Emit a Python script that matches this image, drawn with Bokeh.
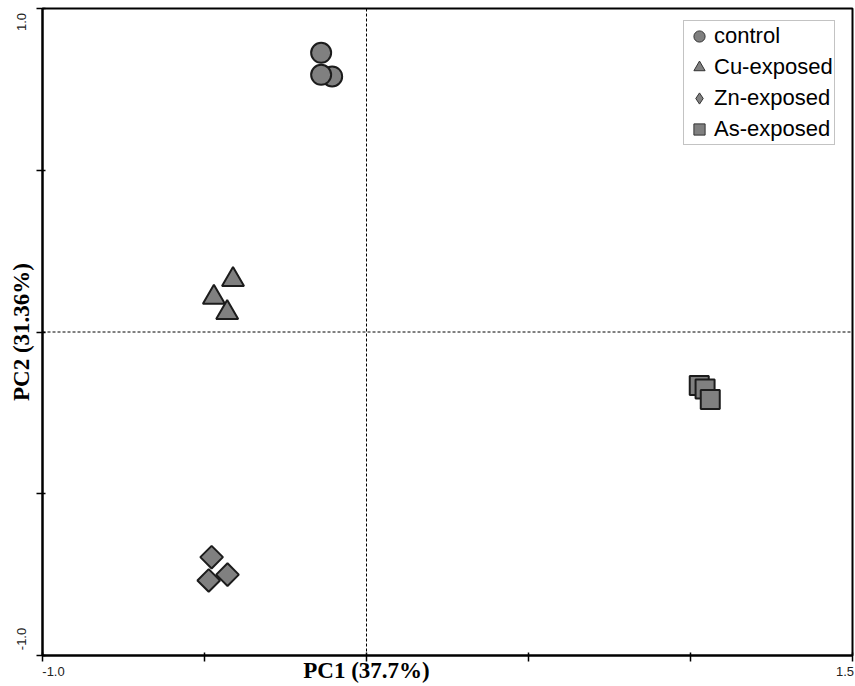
import math
from bokeh.plotting import figure
from bokeh.models import (Range1d, Span, Legend, LegendItem, FixedTicker, ColumnDataSource,
                          CustomJSTickFormatter, NumeralTickFormatter, LinearAxis)
from bokeh.embed import file_html
from bokeh.resources import INLINE

# ---- data (PCA scores) ----
control_x = [-0.106, -0.140, -0.140]
control_y = [0.790, 0.863, 0.795]
cu_x = [-0.412, -0.471, -0.430]
cu_y = [0.162, 0.107, 0.060]
zn_x = [-0.478, -0.429, -0.487]
zn_y = [-0.696, -0.750, -0.768]
as_x = [1.027, 1.045, 1.061]
as_y = [-0.165, -0.176, -0.209]

group_names = ["control", "Cu-exposed", "Zn-exposed", "As-exposed"]
x_title = "PC1 (37.7%)"
y_title = "PC2 (31.36%)"
x_ticks = [-1.0, -0.5, 0.0, 0.5, 1.0, 1.5]
y_ticks = [-1.0, -0.5, 0.0, 0.5, 1.0]
x_end_labels = [-1.0, 1.5]
y_end_labels = [-1.0, 1.0]

FILL = "#808080"
EDGE = "#1c1c1c"

p = figure(width=855, height=686, output_backend="svg", toolbar_location=None,
           x_range=Range1d(-1.0, 1.5), y_range=Range1d(-1.0, 1.0),
           min_border_left=42, min_border_right=3, min_border_top=8, min_border_bottom=31)
p.grid.visible = False
p.outline_line_color = "black"
p.outline_line_width = 2
p.background_fill_color = "white"
p.border_fill_color = "white"

# main axes: line + ticks only
for ax, ticks in ((p.xaxis[0], x_ticks), (p.yaxis[0], y_ticks)):
    ax.ticker = FixedTicker(ticks=ticks)
    ax.formatter = CustomJSTickFormatter(code="return ''")
    ax.minor_tick_line_color = None
    ax.major_tick_in = 3
    ax.major_tick_out = 6
    ax.major_tick_line_width = 1.5
    ax.axis_line_width = 2
    ax.axis_line_color = "black"
    ax.major_tick_line_color = "black"
    ax.major_label_standoff = 0

# label-only axes (ranges slightly rescaled so that the end labels sit inside the plot corners, as in the reference)
p.extra_x_ranges = {"xl": Range1d(-1.034744, 1.523689)}
p.extra_y_ranges = {"yl": Range1d(-1.053485, 1.043760)}

def label_axis(ax, ticks, font, size, style, standoff, orient=None):
    ax.ticker = FixedTicker(ticks=ticks)
    ax.axis_line_color = None
    ax.major_tick_line_color = None
    ax.minor_tick_line_color = None
    ax.major_tick_in = 0
    ax.major_tick_out = 0
    ax.major_label_standoff = standoff
    ax.major_label_text_font = font
    ax.major_label_text_font_size = size
    ax.major_label_text_font_style = style
    if orient is not None:
        ax.major_label_orientation = orient
    return ax

TICKFONT = ("Liberation Sans", "13px", "normal")
TITLEFONT = ("Liberation Serif", "23px", "bold")

xa1 = label_axis(LinearAxis(x_range_name="xl"), x_end_labels, *TICKFONT, standoff=5)
xa1.formatter = NumeralTickFormatter(format="0.0")
xa1.major_label_text_color = "#222222"
p.add_layout(xa1, "below")

xa2 = label_axis(LinearAxis(), [0.0], *TITLEFONT, standoff=-21)
xa2.major_label_overrides = {0: x_title}
xa2.major_label_text_color = "black"
p.add_layout(xa2, "below")

ya1 = label_axis(LinearAxis(y_range_name="yl"), y_end_labels, *TICKFONT, standoff=10, orient="parallel")
ya1.formatter = NumeralTickFormatter(format="0.0")
ya1.major_label_text_color = "#222222"
p.add_layout(ya1, "left")

ya2 = label_axis(LinearAxis(), [0.0], *TITLEFONT, standoff=-19, orient="parallel")
ya2.major_label_overrides = {0: y_title}
ya2.major_label_text_color = "black"
p.add_layout(ya2, "left")

# dashed zero lines
p.add_layout(Span(location=0, dimension="height", line_color="black", line_width=1, line_dash="3 2"))
p.add_layout(Span(location=0, dimension="width", line_color="black", line_width=1, line_dash="3 2"))

r_c = p.scatter(control_x, control_y, marker="circle", size=20, fill_color=FILL, line_color=EDGE, line_width=2)
r_t = p.scatter(cu_x, cu_y, marker="triangle", size=22, fill_color=FILL, line_color=EDGE, line_width=2)
r_d = p.scatter(zn_x, zn_y, marker="square", angle=math.pi / 4, size=16, fill_color=FILL, line_color=EDGE, line_width=2)
r_s = p.scatter(as_x, as_y, marker="square", size=19, fill_color=FILL, line_color=EDGE, line_width=2)

# legend-only renderers (thin outlines, like the reference legend); NaN positions draw nothing in the plot
leg_renderers = []
for m in ["circle", "triangle", "diamond", "square"]:
    src = ColumnDataSource(data=dict(x=[float("nan")], y=[float("nan")]))
    leg_renderers.append(p.scatter("x", "y", source=src, marker=m, size=12,
                                   fill_color=FILL, line_color="#333333", line_width=1))

legend = Legend(items=[LegendItem(label=n, renderers=[r]) for n, r in zip(group_names, leg_renderers)],
                location=(641, 510), margin=0, padding=1, spacing=3,
                glyph_width=28, glyph_height=28, label_height=28, label_standoff=1,
                label_text_font="Liberation Sans", label_text_font_size="22px",
                label_text_color="black",
                border_line_color="#888888", border_line_width=1,
                background_fill_color="white", background_fill_alpha=1.0)
p.add_layout(legend, "center")

open("out.html", "w").write(file_html(p, INLINE))
